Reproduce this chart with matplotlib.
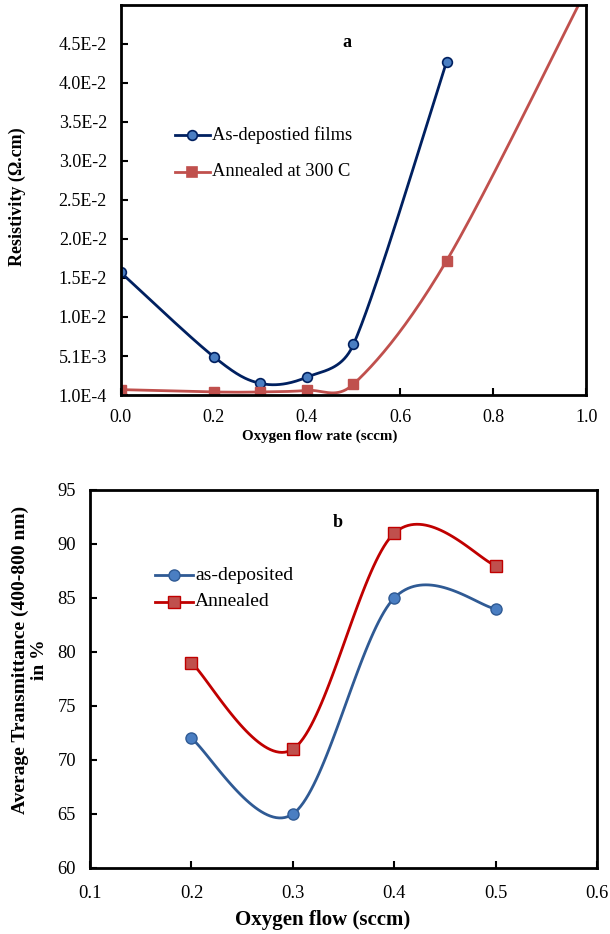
import numpy as np
import matplotlib
matplotlib.use("Agg")
import matplotlib.pyplot as plt
from matplotlib.ticker import FixedLocator

plt.rcParams['font.family'] = ['Liberation Serif', 'DejaVu Serif']

# panel a: resistivity
flow_a = [0.0, 0.2, 0.3, 0.4, 0.5, 0.7]
rho_asdep = [0.0158, 0.0050, 0.0016, 0.0024, 0.0066, 0.0428]
flow_a_ann = [0.0, 0.2, 0.3, 0.4, 0.5, 0.7, 1.0]
rho_ann = [0.0008, 0.0005, 0.0005, 0.0007, 0.0015, 0.0173, 0.0520]
ticks_a = [1.0e-4, 5.1e-3, 1.01e-2, 1.51e-2, 2.01e-2, 2.51e-2, 3.01e-2, 3.51e-2, 4.01e-2, 4.51e-2]
ticklabels_a = ['1.0E-4', '5.1E-3', '1.0E-2', '1.5E-2', '2.0E-2', '2.5E-2',
                '3.0E-2', '3.5E-2', '4.0E-2', '4.5E-2']

# panel b: transmittance
flow_b = [0.2, 0.3, 0.4, 0.5]
trans_asdep = [72, 65, 85, 84]
trans_ann = [79, 71, 91, 88]


def smooth(x, y, xr, yr, w, h, n=40):
    # Excel-like smoothed line: Bezier with tangents of 1/6, limited on short segments
    x = (np.asarray(x, float) - xr[0]) / (xr[1] - xr[0]) * w
    y = (np.asarray(y, float) - yr[0]) / (yr[1] - yr[0]) * h
    p = np.column_stack([x, y])
    pts = np.vstack([p[0], p, p[-1]])
    out = []
    t = np.linspace(0, 1, n)[:, None]
    for i in range(1, len(pts) - 2):
        p0, p1, p2, p3 = pts[i - 1], pts[i], pts[i + 1], pts[i + 2]
        d12 = np.hypot(*(p2 - p1))
        d02 = np.hypot(*(p2 - p0))
        d13 = np.hypot(*(p3 - p1))
        f1 = min(1 / 6, 0.5 * d12 / d02) if d02 > 0 else 0
        f2 = min(1 / 6, 0.5 * d12 / d13) if d13 > 0 else 0
        c1 = p1 + (p2 - p0) * f1
        c2 = p2 - (p3 - p1) * f2
        seg = ((1 - t) ** 3) * p1 + 3 * ((1 - t) ** 2) * t * c1 + 3 * (1 - t) * t ** 2 * c2 + t ** 3 * p2
        out.append(seg)
    out = np.vstack(out)
    return out[:, 0] / w * (xr[1] - xr[0]) + xr[0], out[:, 1] / h * (yr[1] - yr[0]) + yr[0]


fig = plt.figure(figsize=(6.1, 9.34), dpi=100)

# ---- panel a ----
ax1 = fig.add_axes([0.198, 0.577, 0.763, 0.418])
xr, yr = (0, 1.0), (1.0e-4, 0.0501)
blue_line, blue_fill = '#002060', '#4A7EC2'
red_c = '#C0504D'

sx, sy = smooth(flow_a, rho_asdep, xr, yr, 465, 390)
ax1.plot(sx, sy, color=blue_line, lw=2)
ax1.plot(flow_a, rho_asdep, 'o', ms=7, mfc=blue_fill, mec=blue_line, mew=1.2)
sx, sy = smooth(flow_a_ann, rho_ann, xr, yr, 465, 390)
ax1.plot(sx, sy, color=red_c, lw=2)
ax1.plot(flow_a_ann, rho_ann, 's', ms=7.5, mfc=red_c, mec=red_c)

ax1.set_xlim(*xr)
ax1.set_ylim(*yr)
ax1.set_xticks([0, 0.2, 0.4, 0.6, 0.8, 1.0])
ax1.set_xticklabels(['0.0', '0.2', '0.4', '0.6', '0.8', '1.0'])
ax1.yaxis.set_major_locator(FixedLocator(ticks_a))
ax1.set_yticklabels(ticklabels_a)
ax1.set_xlabel('Oxygen flow rate (sccm)', fontsize=10.8, fontweight='bold', va='center')
ax1.xaxis.set_label_coords(0.428, -0.106)
ax1.set_ylabel('Resistivity (\u03a9.cm)', fontsize=13, fontweight='bold', va='center')
ax1.yaxis.set_label_coords(-0.222, 0.508)
ax1.text(0.486, 0.903, 'a', transform=ax1.transAxes, fontsize=13, fontweight='bold', ha='center', va='center')

# legend a
lx0, lx1 = 0.116, 0.191
for yy, lab, mk, lc, fc in [(0.667, 'As-depostied films', 'o', blue_line, blue_fill),
                            (0.572, 'Annealed at 300 C', 's', red_c, red_c)]:
    ax1.plot([lx0, lx1], [yy, yy], color=lc, lw=2, transform=ax1.transAxes)
    ax1.plot([(lx0 + lx1) / 2], [yy], mk, ms=7, mfc=fc, mec=lc, mew=1.2, transform=ax1.transAxes)
    ax1.text(lx1 + 0.005, yy, lab, transform=ax1.transAxes, fontsize=13.3, va='center', ha='left')

# ---- panel b ----
ax2 = fig.add_axes([0.1475, 0.0707, 0.8315, 0.4047])
xr, yr = (0.1, 0.6), (60, 95)
b_line, b_fill = '#2F5A94', '#4A7EC2'
r_line, r_fill = '#C00000', '#C0504D'

sx, sy = smooth(flow_b, trans_asdep, xr, yr, 507, 378)
ax2.plot(sx, sy, color=b_line, lw=2)
ax2.plot(flow_b, trans_asdep, 'o', ms=8, mfc=b_fill, mec=b_line, mew=1)
sx, sy = smooth(flow_b, trans_ann, xr, yr, 507, 378)
ax2.plot(sx, sy, color=r_line, lw=2)
ax2.plot(flow_b, trans_ann, 's', ms=8, mfc=r_fill, mec=r_line, mew=1)

ax2.set_xlim(*xr)
ax2.set_ylim(*yr)
ax2.set_xticks([0.1, 0.2, 0.3, 0.4, 0.5, 0.6])
ax2.set_yticks(range(60, 96, 5))
ax2.set_xlabel('Oxygen flow (sccm)', fontsize=15, fontweight='bold', va='center')
ax2.xaxis.set_label_coords(0.458, -0.138)
ax2.set_ylabel('Average Transmittance (400-800 nm)\nin %', fontsize=14, fontweight='bold',
               va='center', linespacing=1.15)
ax2.yaxis.set_label_coords(-0.118, 0.55)
ax2.text(0.489, 0.913, 'b', transform=ax2.transAxes, fontsize=13, fontweight='bold', ha='center', va='center')

lx0, lx1 = 0.128, 0.203
for yy, lab, mk, lc, fc in [(0.775, 'as-deposited', 'o', b_line, b_fill),
                            (0.704, 'Annealed', 's', r_line, r_fill)]:
    ax2.plot([lx0, lx1], [yy, yy], color=lc, lw=2, transform=ax2.transAxes)
    ax2.plot([(lx0 + lx1) / 2], [yy], mk, ms=8, mfc=fc, mec=lc, mew=1, transform=ax2.transAxes)
    ax2.text(lx1 + 0.004, yy, lab, transform=ax2.transAxes, fontsize=14, va='center', ha='left')

for ax, ls, xpad in ((ax1, 13, 10), (ax2, 13.3, 12)):
    for sp in ax.spines.values():
        sp.set_linewidth(2)
        sp.set_color('black')
    ax.tick_params(direction='in', length=5, width=1.5, labelsize=ls)
    ax.tick_params(axis='x', pad=xpad)
    ax.tick_params(axis='y', pad=10)

fig.savefig('out.png', dpi=100)
